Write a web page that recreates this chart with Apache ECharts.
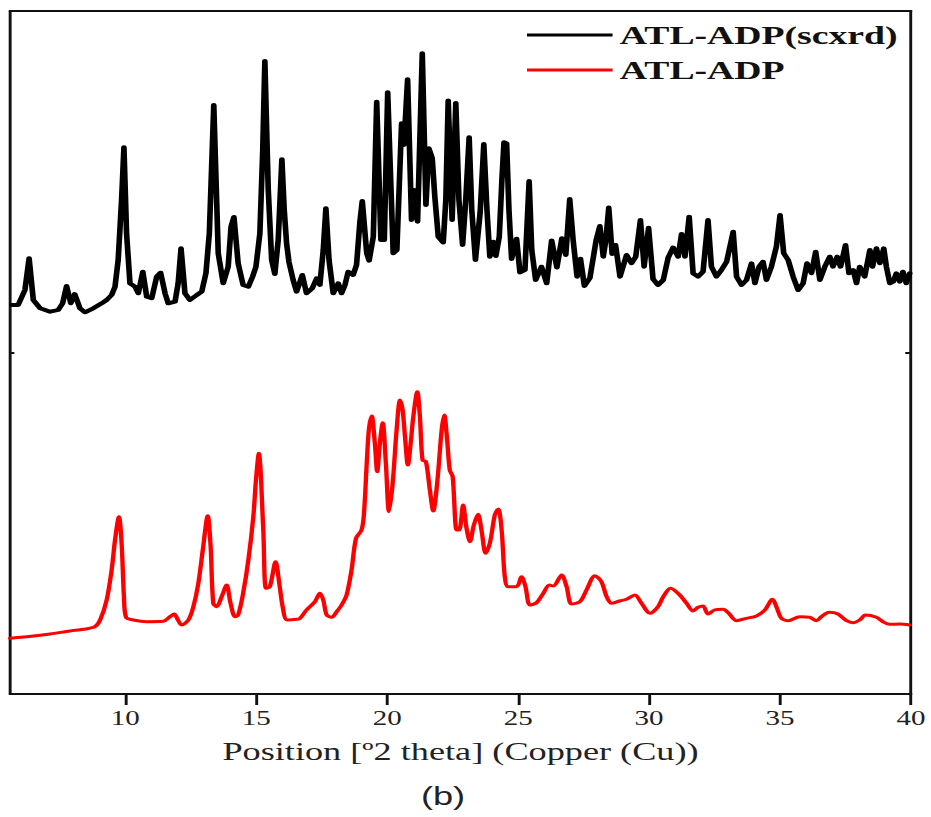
<!DOCTYPE html>
<html>
<head>
<meta charset="utf-8">
<script src="https://cdn.jsdelivr.net/npm/echarts@6/dist/echarts.min.js"></script>
<style>
  html, body { margin: 0; padding: 0; background: #fff; overflow: hidden; }
  #wrap { width: 931px; height: 817px; overflow: hidden; }
  /* the figure is laid out narrow and widened horizontally, like the printed plate */
  #chart { width: 642px; height: 817px; transform: scaleX(1.4502); transform-origin: 0 0; }
</style>
</head>
<body>
<div id="wrap"><div id="chart"></div></div>
<script>
// Simulated single-crystal pattern, ATL-ADP(scxrd): 2θ (deg) and intensity (a.u., offset)
const scxrdTheta = [
  5.67,5.91,6.17,6.33,6.49,6.75,7.13,7.44,7.61,7.76,
  7.92,8.07,8.27,8.46,8.78,9.10,9.29,9.48,9.61,9.73,
  9.86,9.95,10.05,10.18,10.37,10.50,10.67,10.82,11.01,11.20,
  11.35,11.52,11.64,11.90,12.02,12.13,12.28,12.47,12.73,12.92,
  13.08,13.21,13.38,13.55,13.74,13.93,14.04,14.15,14.31,14.50,
  14.70,14.86,14.99,15.14,15.25,15.33,15.46,15.59,15.71,15.84,
  15.98,16.07,16.16,16.25,16.41,16.54,16.76,16.92,17.14,17.31,
  17.43,17.56,17.66,17.78,17.94,18.13,18.26,18.39,18.51,18.70,
  18.83,18.96,19.05,19.22,19.31,19.47,19.60,19.76,19.89,20.02,
  20.23,20.37,20.55,20.64,20.78,20.93,21.03,21.16,21.34,21.48,
  21.59,21.72,21.82,21.95,22.14,22.24,22.33,22.48,22.62,22.74,
  22.88,23.00,23.13,23.23,23.37,23.55,23.69,23.81,23.92,24.05,
  24.15,24.28,24.38,24.46,24.56,24.65,24.75,24.94,25.07,25.26,
  25.42,25.52,25.67,25.89,26.09,26.28,26.48,26.67,26.82,26.97,
  27.10,27.25,27.38,27.53,27.74,27.98,28.12,28.25,28.35,28.46,
  28.59,28.72,28.89,29.14,29.33,29.49,29.67,29.81,29.98,30.15,
  30.34,30.54,30.73,30.92,31.11,31.24,31.37,31.53,31.68,31.87,
  32.06,32.25,32.38,32.57,32.76,32.96,33.21,33.34,33.53,33.72,
  33.91,34.04,34.20,34.35,34.48,34.67,34.86,35.00,35.14,35.31,
  35.50,35.69,35.88,36.03,36.20,36.36,36.52,36.71,36.90,37.02,
  37.18,37.31,37.50,37.63,37.79,37.92,38.04,38.23,38.43,38.53,
  38.68,38.81,38.96,39.06,39.19,39.32,39.44,39.57,39.69,39.82,
  39.95
];
const scxrdIntensity = [
  389,389,404,435.7,394,385.7,382.3,384,390.7,408,
  390.7,400,385.7,381.7,385.7,390.7,394,399,407.3,434,
  494,546.7,460.7,410.7,407.3,400.7,422.3,397.3,395.7,417.3,
  421.3,400.7,390.7,392.3,410.7,445.7,400.7,394,399,402.3,
  420.7,460.7,589,440.7,410.7,427.3,467.3,477,430.7,409,
  407.3,417.3,427.3,460.7,544,633,504,434,420,454,
  534.7,484,450.7,432,414,402.3,419,400.7,405.7,415.7,
  409,444,485.7,434,400.7,410.7,400.7,409,422.3,419,
  429,472.3,493,440.7,433.3,457.3,592.3,454,454,601.7,
  440.7,444,570.7,549,614.7,474,504,472.3,640.7,489,
  545.7,535.7,497,457.3,451.5,494,593.5,474,591,494,
  449,494,556.8,484,434,481.5,550,484,437.3,452.3,
  438,457.3,514,551.8,550.7,484,435,455.3,421.5,424,
  513,444,414,427.3,410.7,453.5,426.5,455.7,439,495,
  454,417.3,435.2,408,416,454,468,437.3,454,486.5,
  440,449,417.3,439,430.7,437.3,474,427.3,466.2,415,
  409,414,436.5,446.5,437.3,460,437.3,477.3,420.7,417.3,
  422.3,474,427.3,417.3,424,432.3,462.3,417.3,409,414,
  430.7,410.7,427.3,432.3,414,427.3,447.3,479,440.7,434,
  417.3,404,410.7,430.7,420.7,442.3,414,427.3,437.3,427.3,
  437.3,427.3,449,420.7,424,410.7,427.3,417.3,444,427.3,
  445.7,430.7,445.7,427.3,410.7,412.3,420.7,412.3,422.3,410.7,
  420.7
];

// Measured powder pattern, ATL-ADP: 2θ (deg) and intensity (a.u.)
const pxrdTheta = [
  5.60,6.49,7.13,7.89,8.40,8.84,9.04,9.29,9.48,9.61,
  9.76,9.86,9.95,10.03,10.31,10.82,11.45,11.71,11.87,12.00,
  12.15,12.41,12.60,12.79,12.96,13.15,13.26,13.36,13.49,13.68,
  13.87,14.02,14.19,14.31,14.50,14.70,14.89,14.99,15.10,15.27,
  15.37,15.52,15.74,15.88,16.01,16.18,16.54,16.67,16.92,17.24,
  17.43,17.56,17.69,17.88,18.07,18.26,18.45,18.64,18.81,19.02,
  19.11,19.22,19.30,19.41,19.53,19.62,19.72,19.83,19.95,20.07,
  20.21,20.36,20.49,20.59,20.68,20.79,20.91,20.99,21.15,21.25,
  21.35,21.48,21.63,21.76,21.92,22.08,22.18,22.29,22.39,22.50,
  22.65,22.75,22.90,23.03,23.16,23.31,23.47,23.60,23.76,23.92,
  24.11,24.24,24.37,24.49,24.62,24.94,25.13,25.28,25.45,25.70,
  25.96,26.19,26.34,26.66,26.85,27.04,27.36,27.61,27.93,28.18,
  28.38,28.57,28.88,29.14,29.46,29.71,30.03,30.34,30.54,30.82,
  31.17,31.43,31.68,31.87,32.06,32.25,32.50,32.83,33.02,33.34,
  33.72,34.10,34.42,34.71,34.86,35.05,35.31,35.75,36.13,36.39,
  36.58,36.87,37.21,37.54,37.79,38.04,38.26,38.68,38.93,39.19,
  39.57,39.95
];
const pxrdIntensity = [
  55.7,58,60,63,64.7,67.3,74,94,124,154,
  177.3,151,97.3,76.7,74,72.3,72.7,77.3,80,74.7,
  69,74,87.3,110.7,144,178.3,147.3,90.7,87.3,97.3,
  109,90.7,77.3,79,100.7,134,177.3,214,240.7,164,
  105.7,107.3,132.3,110.7,87.3,74,74.7,75.7,84,92.3,
  100.7,94,79,76.7,82.3,89,99,124,155.7,164,
  179,230.7,264,278,250.7,222.3,250.7,271.3,230.7,182.3,
  210.7,264,294,284,257.3,229,254,275.7,302.3,277.3,
  234,232.3,204,183,214,264,279,254,224,217.3,
  164,164,189,165.7,152.3,169,179.7,164,140.7,150.7,
  179,185,164,117.3,107.3,107.3,117.3,107.3,89,91.3,
  100.7,109,108,119,107.3,90,92.3,104,118.3,112.3,
  97.3,90.7,93,94.7,99,90.7,80.7,87.3,97.3,105.7,
  99,90.7,83,86.7,88,80,84,84.7,81.3,73.3,
  75.7,78,84,94.7,87.3,75.7,73.3,77.3,76.7,73.3,
  77.3,81.7,80,73.3,71.3,74,79,76.7,72.3,69.7,
  70,69
];

const seriesNames = ['ATL-ADP(scxrd)', 'ATL-ADP'];
const xTicks = [10, 15, 20, 25, 30, 35, 40];
const yMarks = [341];
const xTitle = 'Position [\u00BA2 theta] (Copper (Cu))';
const panelLabel = '(b)';

function pairs(xs, ys) {
  const out = [];
  const n = Math.min(xs.length, ys.length);
  for (let i = 0; i < n; i++) out.push([xs[i], ys[i]]);
  return out;
}

const ink = '#111';
const chart = echarts.init(document.getElementById('chart'), null, { renderer: 'svg' });

chart.setOption({
  animation: false,
  backgroundColor: '#fff',
  grid: { left: 6.9, right: 13.8, top: 11, bottom: 123, containLabel: false },
  legend: {
    orient: 'vertical',
    left: 363.4,
    top: 22,
    padding: 0,
    itemGap: 9,
    itemWidth: 59,
    itemHeight: 3,
    icon: 'rect',
    selectedMode: false,
    data: seriesNames,
    textStyle: { fontFamily: 'Liberation Serif', fontWeight: 'bold', fontSize: 26, color: ink }
  },
  xAxis: [{
    type: 'value', min: 5.6, max: 40, position: 'bottom',
    axisLine: { show: true, onZero: false, lineStyle: { color: ink, width: 2 } },
    axisTick: { show: true, inside: false, length: 11, customValues: xTicks, lineStyle: { color: ink, width: 2 } },
    axisLabel: { customValues: xTicks, margin: 14, fontFamily: 'Liberation Serif', fontSize: 20, color: '#222' },
    splitLine: { show: false },
    name: xTitle, nameLocation: 'middle', nameGap: 45,
    nameTextStyle: { fontFamily: 'Liberation Serif', fontSize: 25, color: '#222' }
  }, {
    type: 'value', min: 5.6, max: 40, position: 'top',
    axisLine: { show: true, onZero: false, lineStyle: { color: ink, width: 2 } },
    axisTick: { show: false }, axisLabel: { show: false }, splitLine: { show: false }
  }],
  yAxis: [{
    type: 'value', min: 0, max: 683, position: 'left',
    axisLine: { show: true, onZero: false, lineStyle: { color: ink, width: 2 } },
    axisTick: { show: true, inside: true, length: 3, customValues: yMarks, lineStyle: { color: ink, width: 2 } },
    axisLabel: { show: false }, splitLine: { show: false }
  }, {
    type: 'value', min: 0, max: 683, position: 'right',
    axisLine: { show: true, onZero: false, lineStyle: { color: ink, width: 2 } },
    axisTick: { show: true, inside: true, length: 4, customValues: yMarks, lineStyle: { color: ink, width: 2 } },
    axisLabel: { show: false }, splitLine: { show: false }
  }],
  series: [{
    name: seriesNames[0], type: 'line', xAxisIndex: 0, yAxisIndex: 0,
    data: pairs(scxrdTheta, scxrdIntensity),
    symbol: 'none', showSymbol: false, color: '#000',
    smooth: false,
    lineStyle: { color: '#000', width: 3.9, join: 'round', cap: 'round' }
  }, {
    name: seriesNames[1], type: 'line', xAxisIndex: 0, yAxisIndex: 0,
    data: pairs(pxrdTheta, pxrdIntensity),
    symbol: 'none', showSymbol: false, color: '#ff0000',
    smooth: 0.3,
    lineStyle: { color: '#ff0000', width: 3, join: 'round', cap: 'round' }
  }],
  graphic: [{
    type: 'text', x: 305.5, y: 797,
    style: { text: panelLabel, fontFamily: 'Liberation Sans', fontSize: 25, fill: '#222', align: 'center', verticalAlign: 'middle' }
  }]
});
</script>
</body>
</html>
